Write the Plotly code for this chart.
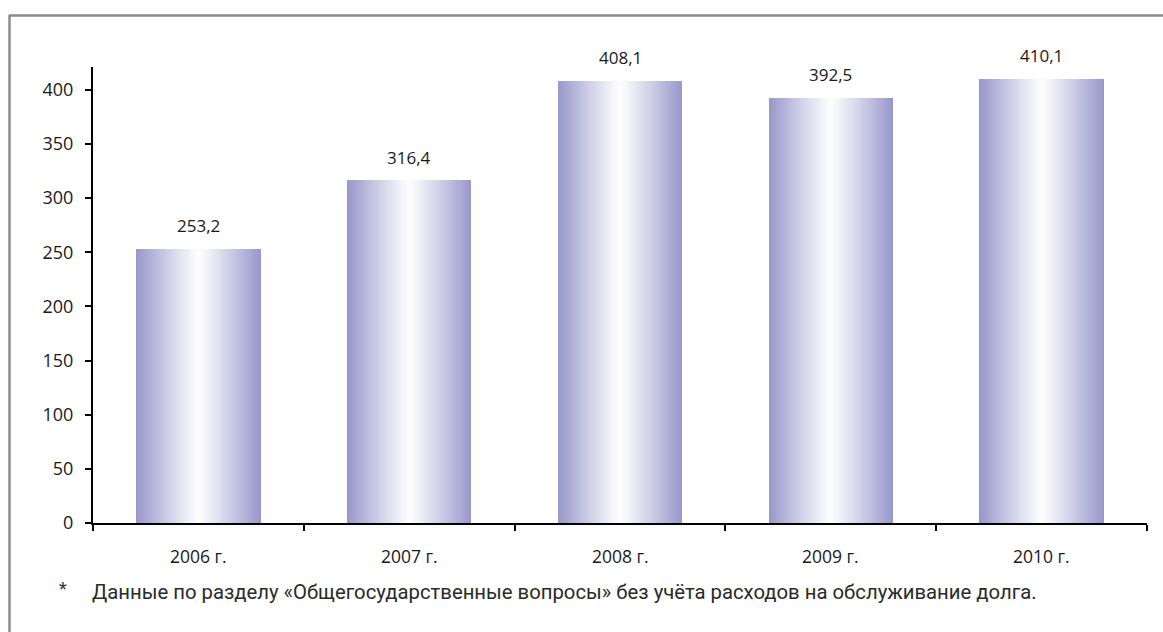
import plotly.graph_objects as go

categories = ["2006 г.", "2007 г.", "2008 г.", "2009 г.", "2010 г."]
values = [253.2, 316.4, 408.1, 392.5, 410.1]
y_ticks = [0, 50, 100, 150, 200, 250, 300, 350, 400]
footnote = "Данные по разделу «Общегосударственные вопросы» без учёта расходов на обслуживание долга."

W, H = 1163, 632
ML, MR, MT, MB = 93, 16, 67, 109
PW, PH = W - ML - MR, H - MT - MB

BAR_W = 0.59
N = 40
edge = (152, 152, 204)
white = (255, 255, 255)

fig = go.Figure()
for k in range(N):
    t = 1 - k / N  # 1 at outer edge, ->0 at centre
    f = t ** 1.1
    c = tuple(round(white[i] + (edge[i] - white[i]) * f) for i in range(3))
    fig.add_trace(go.Bar(
        x=categories, y=values,
        width=BAR_W * (1 - k / N),
        marker=dict(color=f"rgb{c}", line=dict(width=0)),
        hoverinfo="skip", showlegend=False,
    ))

def px_x(p):
    return (p - ML) / PW

def px_y(p):
    return (H - MB - p) / PH

label_font = dict(family="Open Sans", size=17, color="#1a1a1a")
for cat, v in zip(categories, values):
    fig.add_annotation(x=cat, y=v, text=f"{v:.1f}".replace(".", ","),
                       showarrow=False, yshift=23, yanchor="middle", font=label_font)
    fig.add_annotation(x=cat, yref="paper", y=px_y(556), text=cat,
                       showarrow=False, yanchor="middle",
                       font=dict(family="Open Sans", size=17.5, color="#1a1a1a"))

border = dict(color="#8c8c8c", width=2.5)
fig.add_shape(type="line", xref="paper", yref="paper",
              x0=px_x(9), x1=px_x(W + 5), y0=px_y(15.5), y1=px_y(15.5), line=border)
fig.add_shape(type="line", xref="paper", yref="paper",
              x0=px_x(9.5), x1=px_x(9.5), y0=px_y(15), y1=px_y(H + 5), line=border)

fig.add_annotation(xref="paper", yref="paper", x=px_x(57), y=px_y(588),
                   text="*", showarrow=False, xanchor="left", yanchor="middle",
                   font=dict(family="Roboto", size=18, color="#333333"))
fig.add_annotation(xref="paper", yref="paper", x=px_x(90), y=px_y(592),
                   text=footnote, showarrow=False, xanchor="left", yanchor="middle",
                   font=dict(family="Roboto", size=20.3, color="#2a2a2a"))

fig.update_layout(
    width=W, height=H,
    margin=dict(l=ML, r=MR, t=MT, b=MB),
    barmode="overlay", bargap=0,
    plot_bgcolor="white", paper_bgcolor="white",
    xaxis=dict(type="category", range=[-0.5, 4.5], showgrid=False,
               showline=True, linecolor="black", linewidth=2,
               ticks="outside", tickson="boundaries", ticklen=6, tickwidth=2,
               tickcolor="black", showticklabels=False),
    yaxis=dict(range=[0, 421], tickvals=y_ticks, showgrid=False, zeroline=False,
               showline=True, linecolor="black", linewidth=2,
               ticks="outside", ticklen=6, tickwidth=2, tickcolor="black",
               ticklabelstandoff=8,
               tickfont=dict(family="Open Sans", size=18, color="#1a1a1a")),
)

fig.write_html("out.html", config={"displayModeBar": False},
               post_script="document.body.style.margin='0';document.body.style.overflow='hidden';")
